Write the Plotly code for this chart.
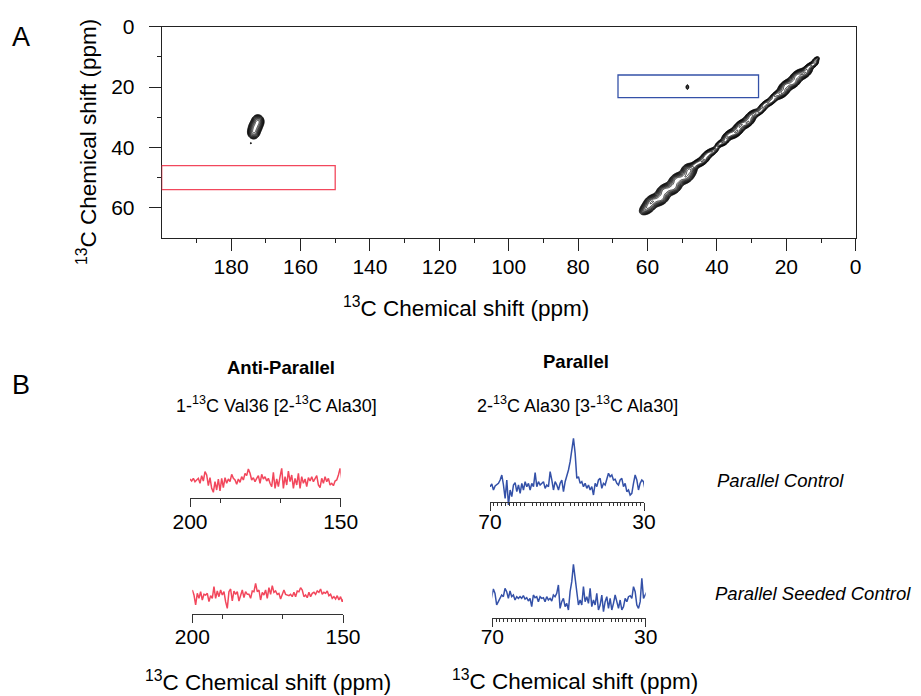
import numpy as np
import plotly.graph_objects as go

PAGE_OFF = 8          # default page margin of the html body
W, H = 921 - PAGE_OFF, 696 - PAGE_OFF
FONT = "Arial, 'Liberation Sans', sans-serif"
RED = "#f2475c"
BLUE = "#3451a8"

# ---------------- Panel A data (2D 13C-13C spectrum peak list) ----------------
# diagonal peaks: centre (ppm), amplitude, width along diagonal, width across, offset across
diag_center = [60.0, 58.3, 56.5, 54.7, 52.9, 51.1, 49.3, 47.8,
               45.8, 44.2, 42.6, 41.2,
               39.0, 38.0,
               36.2, 34.6, 33.0, 31.4, 29.8,
               27.6, 26.0, 24.4, 23.0,
               21.4, 19.8, 18.2, 16.6, 15.0,
               13.4, 12.2, 11.2]
diag_amp    = [0.8, 1.0, 1.0, 1.0, 1.0, 1.0, 1.0, 1.1,
               0.55, 0.6, 0.55, 0.4,
               0.45, 0.45,
               0.8, 0.8, 0.8, 0.8, 0.7,
               0.45, 0.45, 0.45, 0.45,
               0.9, 0.9, 0.9, 0.9, 0.85,
               0.5, 0.4, 0.3]
diag_along  = [0.9, 0.9, 0.9, 0.9, 0.9, 0.9, 0.9, 0.75,
               0.9, 0.9, 0.9, 0.8,
               0.6, 0.6,
               0.9, 0.9, 0.9, 0.9, 0.9,
               0.9, 0.9, 0.9, 0.8,
               0.9, 0.9, 0.9, 0.9, 0.9,
               0.7, 0.6, 0.5]
diag_across = [0.8, 0.85, 0.85, 0.85, 0.85, 0.85, 0.85, 0.9,
               0.55, 0.55, 0.55, 0.5,
               0.45, 0.45,
               0.6, 0.6, 0.6, 0.6, 0.6,
               0.45, 0.45, 0.45, 0.45,
               0.65, 0.65, 0.65, 0.65, 0.65,
               0.45, 0.45, 0.4]
diag_offset = [0.0, 0.55, -0.55, 0.55, -0.55, 0.55, -0.55, 0.35,
               0.35, -0.35, 0.35, -0.2,
               0.3, -0.3,
               0.45, -0.45, 0.45, -0.45, 0.45,
               -0.4, 0.4, -0.4, 0.4,
               -0.5, 0.5, -0.5, 0.5, -0.5,
               0.2, -0.3, 0.4]

# off-diagonal cross peaks: f2 (ppm), f1 (ppm), amplitude, width f2, width f1
cross_f2  = [172.3, 173.0, 173.5, 174.3, 48.5]
cross_f1  = [31.4, 33.2, 35.0, 38.6, 20.0]
cross_amp = [0.9, 0.8, 0.8, 0.1, 0.16]
cross_wx  = [0.8, 0.85, 0.8, 0.15, 0.3]
cross_wy  = [1.0, 1.0, 1.0, 0.3, 0.6]

# boxed regions: (f2 high, f2 low, f1 low, f1 high)
red_box = [200, 150, 46, 54]
blue_box = [68.5, 28, 16, 23.5]

# ---------------- Panel B data (1D slices, intensity a.u.) ----------------
ap_ctrl = [43, 37, 45, 35, 40, 45, 30, 53, 37, 65, 55, 23, 47, 15, 3, 35, 10, 43, 7, 45,
           17, 47, 30, 43, 35, 57, 45, 40, 27, 43, 33, 50, 40, 60, 53, 73, 60, 40, 47, 35,
           45, 53, 30, 57, 43, 50, 37, 45, 30, 20, 63, 15, 43, 20, 50, 75, 15, 50, 25, 67,
           35, 55, 15, 45, 25, 60, 15, 50, 30, 43, 20, 47, 37, 50, 35, 43, 53, 25, 17, 45,
           30, 50, 35, 45, 25, 30, 23, 37, 40, 55, 75, 43, 35]
p_ctrl = [82, 70, 78, 60, 72, 75, 80, 90, 105, 75,
          35, 90, 15, 60, 40, 75, 82, 55, 75, 50,
          80, 60, 85, 70, 80, 60, 80, 70, 112, 70,
          85, 75, 80, 85, 65, 75, 70, 115, 90, 60,
          85, 75, 60, 80, 90, 55, 85, 100, 120, 145,
          185, 215, 170, 95, 100, 80, 85, 70, 80, 65,
          75, 60, 70, 45, 80, 70, 90, 95, 65, 80,
          75, 90, 110, 100, 105, 90, 92, 80, 75, 90,
          95, 70, 80, 55, 60, 45, 50, 80, 105, 90,
          60, 80, 90, 85, 60]
ap_seed = [65, 50, 20, 55, 40, 60, 35, 52, 50, 55,
           30, 48, 40, 75, 40, 62, 45, 65, 50, 60,
           30, 10, 60, 68, 32, 62, 52, 60, 32, 50,
           65, 42, 60, 52, 52, 40, 62, 60, 85, 60,
           65, 35, 58, 50, 65, 40, 72, 52, 78, 58,
           62, 52, 55, 38, 55, 65, 52, 50, 48, 52,
           45, 58, 45, 62, 60, 72, 65, 45, 50, 42,
           58, 45, 55, 58, 52, 62, 58, 68, 52, 58,
           55, 62, 48, 52, 40, 45, 38, 48, 35, 45,
           30, 40]
p_seed = [50, 70, 98, 85, 50, 60, 70, 80, 75, 100,
          90, 70, 92, 75, 80, 65, 75, 70, 75, 70,
          78, 68, 72, 62, 70, 45, 80, 72, 75, 60,
          75, 70, 72, 60, 75, 65, 70, 62, 80, 75,
          85, 110, 40, 60, 70, 45, 55, 35, 90, 120,
          172, 130, 80, 50, 65, 50, 105, 60, 75, 55,
          100, 45, 65, 50, 85, 35, 50, 80, 30, 60,
          75, 40, 70, 35, 55, 80, 60, 40, 65, 35,
          45, 70, 60, 75, 78, 70, 105, 90, 50, 40,
          60, 130, 70, 80, 90]

ap_ppm_ctrl = np.linspace(200.0, 149.1, len(ap_ctrl))
p_ppm_ctrl = np.linspace(70.4, 29.7, len(p_ctrl))
ap_ppm_seed = np.linspace(200.0, 149.7, len(ap_seed))
p_ppm_seed = np.linspace(70.6, 29.7, len(p_seed))

# ---------------- helpers (window pixel -> paper) ----------------
def px(x):
    return (x - PAGE_OFF) / W

def py(y):
    return 1 - (y - PAGE_OFF) / H

def diag_spectrum(gx, gy):
    X, Y = np.meshgrid(gx, gy)
    u = (X + Y) / 2.0
    d = (X - Y) / np.sqrt(2.0)
    z = np.zeros_like(X)
    for c, a, s, p, o in zip(diag_center, diag_amp, diag_along, diag_across, diag_offset):
        z += a * np.exp(-((u - c) ** 2) / (2 * s ** 2) - ((d - o) ** 2) / (2 * p ** 2))
    return z

def cross_spectrum(gx, gy, idx):
    X, Y = np.meshgrid(gx, gy)
    z = np.zeros_like(X)
    for i in idx:
        z += cross_amp[i] * np.exp(-((X - cross_f2[i]) ** 2) / (2 * cross_wx[i] ** 2)
                                   - ((Y - cross_f1[i]) ** 2) / (2 * cross_wy[i] ** 2))
    return z

LV = dict(start=np.log10(0.07), end=np.log10(2.0), size=0.11, coloring="lines")

def contour(gx, gy, z):
    return go.Contour(x=gx, y=gy, z=np.log10(np.maximum(z, 1e-5)), contours=LV,
                      colorscale=[[0, "black"], [1, "black"]], showscale=False,
                      line=dict(width=0.8), hoverinfo="skip", xaxis="x", yaxis="y")

fig = go.Figure()

gx = np.arange(6, 66, 0.12)
gy = np.arange(6, 66, 0.12)
fig.add_trace(contour(gx, gy, diag_spectrum(gx, gy)))
gx2 = np.arange(167, 179, 0.08)
gy2 = np.arange(25, 42, 0.1)
fig.add_trace(contour(gx2, gy2, cross_spectrum(gx2, gy2, [0, 1, 2, 3])))
gx3 = np.arange(46, 51, 0.04)
gy3 = np.arange(17, 23, 0.05)
fig.add_trace(contour(gx3, gy3, cross_spectrum(gx3, gy3, [4])))

# boxes
fig.add_shape(type="rect", xref="x", yref="y", x0=red_box[0], x1=red_box[1], y0=red_box[2], y1=red_box[3],
              line=dict(color=RED, width=1.3))
fig.add_shape(type="rect", xref="x", yref="y", x0=blue_box[0], x1=blue_box[1], y0=blue_box[2], y1=blue_box[3],
              line=dict(color=BLUE, width=1.3))

# 1D spectra
fig.add_trace(go.Scatter(x=ap_ppm_ctrl, y=ap_ctrl, mode="lines", line=dict(color=RED, width=1.5),
                         xaxis="x2", yaxis="y2", hoverinfo="skip"))
fig.add_trace(go.Scatter(x=p_ppm_ctrl, y=p_ctrl, mode="lines", line=dict(color=BLUE, width=1.5),
                         xaxis="x3", yaxis="y3", hoverinfo="skip"))
fig.add_trace(go.Scatter(x=ap_ppm_seed, y=ap_seed, mode="lines", line=dict(color=RED, width=1.5),
                         xaxis="x4", yaxis="y4", hoverinfo="skip"))
fig.add_trace(go.Scatter(x=p_ppm_seed, y=p_seed, mode="lines", line=dict(color=BLUE, width=1.5),
                         xaxis="x5", yaxis="y5", hoverinfo="skip"))

TICKF = dict(family=FONT, size=21, color="black")

def b_xaxis(dom, rng, pos, ends, minors, mtl, standoff):
    return dict(domain=dom, range=rng, anchor="free", position=pos, automargin=False,
                tickmode="array", tickvals=ends, ticktext=[str(v) for v in ends],
                ticks="outside", ticklen=8, tickwidth=1, tickcolor="#333",
                minor=dict(tickmode="array", tickvals=minors, ticks="outside", ticklen=mtl,
                           tickwidth=1, tickcolor="#333", showgrid=False),
                showline=True, linecolor="#333", linewidth=1, showgrid=False, zeroline=False,
                tickfont=TICKF, ticklabelstandoff=standoff)

def b_overlay(base, rng, pos, mids, tl):
    # longer unlabelled ticks in the middle of a spectrum axis
    return dict(overlaying=base, range=rng, anchor="free", position=pos, automargin=False,
                tickmode="array", tickvals=mids, ticks="outside", ticklen=tl, tickwidth=1,
                tickcolor="#333", showticklabels=False, showline=False, showgrid=False,
                zeroline=False)

def b_yaxis(dom, rng):
    return dict(domain=dom, range=rng, visible=False, showgrid=False, zeroline=False,
                automargin=False)

minor_ap = [190, 170]
mids_ap = [180, 160]
minor_p = [v for v in range(31, 70) if v % 10 != 0]
mids_p = [60, 50, 40]

fig.update_layout(
    template="none",
    width=W, height=H, margin=dict(l=0, r=0, t=0, b=0, pad=0, autoexpand=False),
    paper_bgcolor="white", plot_bgcolor="white", showlegend=False,
    font=dict(family=FONT, color="black"),
    xaxis=dict(domain=[px(161.7), px(855.7)], range=[200, 0], tickmode="array", automargin=False,
               tickvals=list(range(0, 181, 20)), ticks="outside", ticklen=12, tickwidth=1,
               tickcolor="#222",
               minor=dict(tickmode="array", tickvals=list(range(10, 200, 20)), ticks="outside",
                          ticklen=4, tickwidth=1, tickcolor="#222", showgrid=False),
               showline=True, mirror=True, linecolor="#222", linewidth=1, showgrid=False,
               zeroline=False, tickfont=TICKF, ticklabelstandoff=-2),
    yaxis=dict(domain=[py(238), py(26.7)], range=[70, 0], tickmode="array", automargin=False,
               tickvals=[0, 20, 40, 60], ticks="outside", ticklen=12, tickwidth=1, tickcolor="#222",
               minor=dict(tickmode="array", tickvals=[10, 30, 50], ticks="outside", ticklen=4,
                          tickwidth=1, tickcolor="#222", showgrid=False),
               showline=True, mirror=True, linecolor="#222", linewidth=1, showgrid=False,
               zeroline=False, tickfont=TICKF, ticklabelstandoff=10),
    xaxis2=b_xaxis([px(190), px(340.7)], [200, 150], py(498.3), [200, 150], minor_ap, 4, -4),
    yaxis2=b_yaxis([py(505), py(430)], [-35, 190]),
    xaxis3=b_xaxis([px(490), px(644)], [70, 30], py(502.3), [70, 30], minor_p, 3, -8),
    yaxis3=b_yaxis([py(512), py(430)], [-6, 240]),
    xaxis4=b_xaxis([px(192.3), px(343)], [200, 150], py(613.7), [200, 150], minor_ap, 4, -4),
    yaxis4=b_yaxis([py(620), py(545)], [-25, 200]),
    xaxis5=b_xaxis([px(492.3), px(645.7)], [70, 30], py(617.7), [70, 30], minor_p, 3, -8),
    yaxis5=b_yaxis([py(625), py(545)], [-10, 230]),
    xaxis6=b_overlay("x2", [200, 150], py(498.3), mids_ap, 8),
    xaxis7=b_overlay("x3", [70, 30], py(502.3), mids_p, 6),
    xaxis8=b_overlay("x4", [200, 150], py(613.7), mids_ap, 8),
    xaxis9=b_overlay("x5", [70, 30], py(617.7), mids_p, 6),
)

def txt(x, y, s, size, **kw):
    fig.add_annotation(x=px(x), y=py(y), xref="paper", yref="paper", text=s, showarrow=False,
                       xanchor=kw.pop("xanchor", "center"), yanchor="middle",
                       font=dict(family=FONT, size=size, color="black"), **kw)

TITLE = "<sup>13</sup>C Chemical shift (ppm)"
txt(21, 37, "A", 27)
txt(21, 385, "B", 27)
txt(466, 307, TITLE, 22.5)
txt(87, 142, TITLE, 22.5, textangle=-90)
txt(280.5, 367, "<b>Anti-Parallel</b>", 18.5)
txt(576, 361, "<b>Parallel</b>", 18.5)
txt(276, 404, "1-<sup>13</sup>C Val36 [2-<sup>13</sup>C Ala30]", 18)
txt(577.5, 404, "2-<sup>13</sup>C Ala30 [3-<sup>13</sup>C Ala30]", 18)
txt(780.5, 480, "<i>Parallel Control</i>", 18.5)
txt(813, 593, "<i>Parallel Seeded Control</i>", 18.5)
txt(268, 681, TITLE, 22.5)
txt(575, 680, TITLE, 22.5)

fig.write_html("out.html")
